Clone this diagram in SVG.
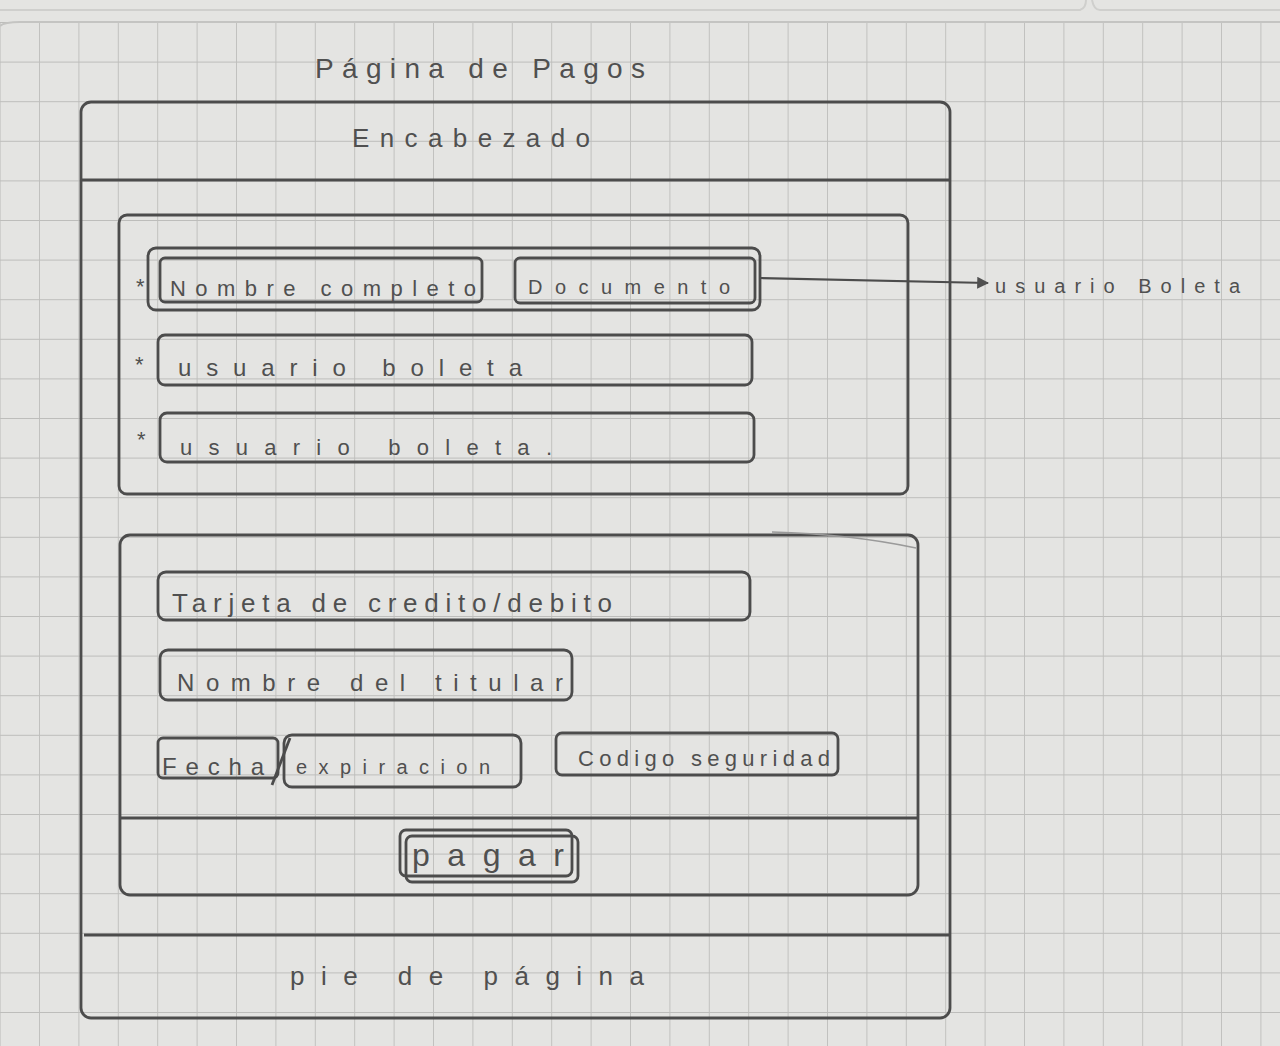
<svg xmlns="http://www.w3.org/2000/svg" width="1280" height="1046" viewBox="0 0 1280 1046">
<defs>
<pattern id="grid" x="39" y="22" width="39.4" height="39.6" patternUnits="userSpaceOnUse">
<path d="M0 0V39.6M0 0H39.4" fill="none" stroke="#bdbdbb" stroke-width="1.8"/>
</pattern>
<marker id="arr" viewBox="0 0 10 10" refX="9" refY="5" markerWidth="12" markerHeight="12" orient="auto" markerUnits="userSpaceOnUse">
<path d="M0 0L10 5L0 10z" fill="#505050"/>
</marker>
<style>
.b{fill:none;stroke:#4c4c4c;stroke-width:2.8;stroke-linejoin:round}
.t{font-family:"Liberation Sans",Arial,sans-serif;fill:#505050;}
.c{stroke:#4c4c4c;stroke-width:2.2;fill:none}
</style>
</defs>
<rect width="1280" height="1046" fill="#e4e4e2"/>
<rect x="0" y="22" width="1280" height="1024" fill="url(#grid)"/>
<path d="M0 10H1080Q1086 8 1086 0M1092 0Q1094 10 1100 10H1280" fill="none" stroke="#cfcfcd" stroke-width="2"/>
<path d="M0 26Q4 22 20 22H1280" fill="none" stroke="#c4c4c2" stroke-width="2"/>

<g id="title"><text class="t" x="315" y="78" font-size="28" textLength="330" lengthAdjust="spacing">Página de Pagos</text></g>

<g id="page">
<rect class="b" x="81" y="102" width="869" height="916" rx="10"/>
</g>
<g id="header">
<path class="b" d="M81 180H949"/>
<text class="t" x="352" y="147" font-size="26" textLength="238" lengthAdjust="spacing">Encabezado</text>
</g>

<g id="seccion-usuario">
<rect class="b" x="119" y="215" width="789" height="279" rx="8"/>
</g>
<g id="fila-nombre-documento">
<rect class="b" x="148" y="248" width="612" height="62" rx="8"/>
<text class="t" x="136" y="294" font-size="22">*</text>
</g>
<g id="nombre-completo">
<rect class="b" x="160" y="258" width="322" height="44" rx="5"/>
<text class="t" x="170" y="296" font-size="22" textLength="306" lengthAdjust="spacing">Nombre completo</text>
</g>
<g id="documento">
<rect class="b" x="515" y="258" width="240" height="45" rx="5"/>
<text class="t" x="528" y="294" font-size="20" textLength="202" lengthAdjust="spacing">Documento</text>
</g>
<g id="nota-usuario-boleta">
<text class="t" x="995" y="293" font-size="20" textLength="245" lengthAdjust="spacing">usuario Boleta</text>
</g>
<g id="usuario-boleta-1">
<text class="t" x="135" y="372" font-size="22">*</text>
<rect class="b" x="158" y="335" width="594" height="50" rx="7"/>
<text class="t" x="178" y="376" font-size="24" textLength="344" lengthAdjust="spacing">usuario boleta</text>
</g>
<g id="usuario-boleta-2">
<text class="t" x="137" y="447" font-size="22">*</text>
<rect class="b" x="160" y="413" width="594" height="49" rx="7"/>
<text class="t" x="180" y="455" font-size="22" textLength="372" lengthAdjust="spacing">usuario boleta.</text>
</g>

<g id="seccion-pago">
<rect class="b" x="120" y="535" width="798" height="360" rx="10"/>
<path class="b" d="M120 818H918"/>
<path d="M772 532Q850 534 916 548" fill="none" stroke="#9a9a9a" stroke-width="1.5"/>
</g>
<g id="tarjeta">
<rect class="b" x="158" y="572" width="592" height="48" rx="8"/>
<text class="t" x="172" y="612" font-size="26" textLength="440" lengthAdjust="spacing">Tarjeta de credito/debito</text>
</g>
<g id="titular">
<rect class="b" x="160" y="650" width="412" height="50" rx="8"/>
<text class="t" x="177" y="691" font-size="24" textLength="386" lengthAdjust="spacing">Nombre del titular</text>
</g>
<g id="fecha">
<rect class="b" x="158" y="738" width="120" height="40" rx="5"/>
<rect class="b" x="284" y="735" width="237" height="52" rx="8"/>
<path class="b" d="M272 785L290 738"/>
<text class="t" x="162" y="775" font-size="24" textLength="102" lengthAdjust="spacing">Fecha</text>
<text class="t" x="296" y="774" font-size="20" textLength="194" lengthAdjust="spacing">expiracion</text>
</g>
<g id="codigo">
<rect class="b" x="556" y="733" width="282" height="42" rx="6"/>
<text class="t" x="578" y="766" font-size="22" textLength="252" lengthAdjust="spacing">Codigo seguridad</text>
</g>
<g id="pagar">
<rect class="b" x="406" y="836" width="172" height="46" rx="6"/>
<rect class="b" x="400" y="830" width="172" height="46" rx="6"/>
<text class="t" x="412" y="866" font-size="32" textLength="152" lengthAdjust="spacing">pagar</text>
</g>
<g id="footer">
<path class="b" d="M84 935H950"/>
<text class="t" x="290" y="985" font-size="26" textLength="354" lengthAdjust="spacing">pie de página</text>
</g>

<g id="connectors">
<path class="c" d="M760 278L988 283" marker-end="url(#arr)"/>
</g>
</svg>
